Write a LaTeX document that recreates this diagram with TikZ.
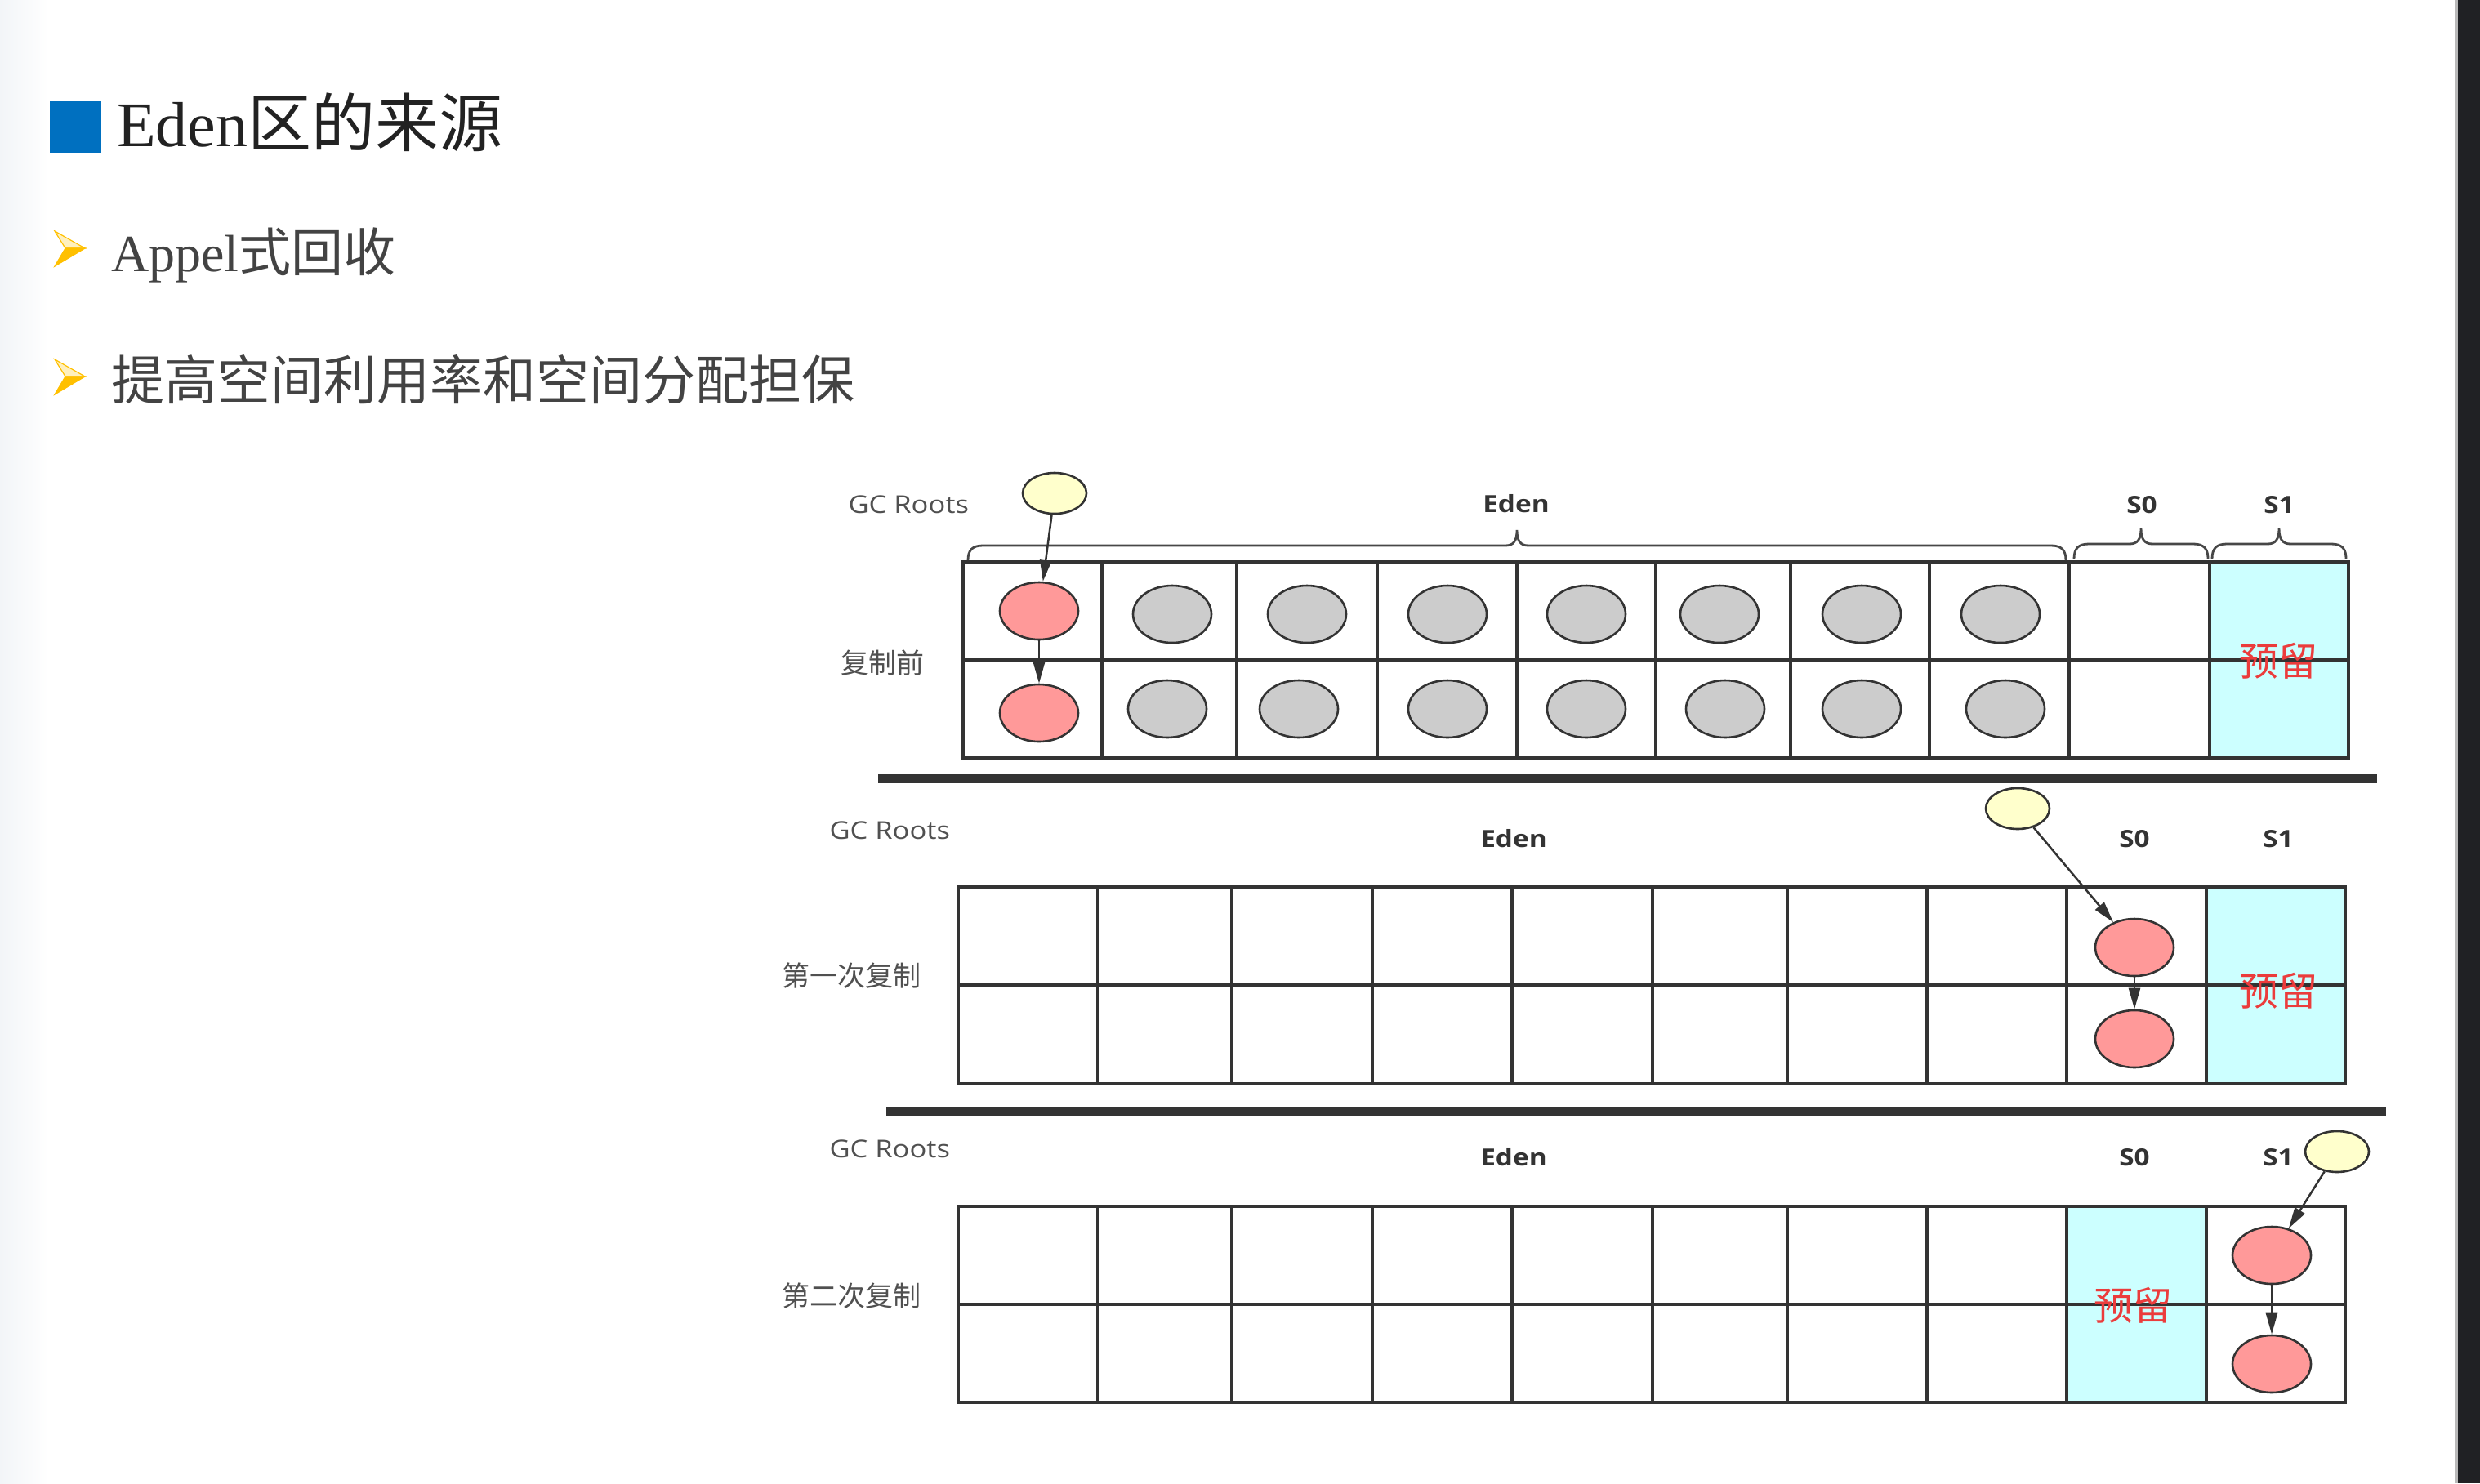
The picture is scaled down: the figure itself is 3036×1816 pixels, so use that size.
\documentclass[tikz,border=0pt]{standalone}
\usepackage{fontspec}
\setmainfont{Liberation Serif}
\newfontfamily\cjk{Noto Sans CJK SC}
\newfontfamily\lbl[FakeStretch=1.15]{Open Sans}
\usetikzlibrary{shapes.geometric,arrows.meta}
\definecolor{titleblue}{RGB}{0,112,192}
\definecolor{txtdark}{RGB}{34,34,34}
\definecolor{txtgray}{RGB}{80,80,80}
\definecolor{linecol}{RGB}{51,51,51}
\definecolor{redfill}{RGB}{255,153,153}
\definecolor{grayfill}{RGB}{204,204,204}
\definecolor{yelfill}{RGB}{255,255,204}
\definecolor{cyanfill}{RGB}{204,255,255}
\definecolor{resred}{RGB}{235,60,60}
\definecolor{bulletgold}{RGB}{255,192,0}
\definecolor{bulletlight}{RGB}{255,240,190}
\definecolor{barcol}{RGB}{32,33,36}
\newcommand{\ubrace}[3]{%
  \draw[bracestyle] (#1,#3) .. controls (#1,{#3-12}) and ({#1+5},{#3-18}) .. ({#1+18},{#3-18})
    -- ({(#1+#2)/2-14},{#3-18}) .. controls ({(#1+#2)/2-4},{#3-18}) and ({(#1+#2)/2},{#3-24}) .. ({(#1+#2)/2},{#3-37})
    .. controls ({(#1+#2)/2},{#3-24}) and ({(#1+#2)/2+4},{#3-18}) .. ({(#1+#2)/2+14},{#3-18})
    -- ({#2-18},{#3-18}) .. controls ({#2-5},{#3-18}) and (#2,{#3-12}) .. (#2,#3);}
\newcommand{\bulletarrow}[1]{%
  \filldraw[draw=bulletgold, line width=1.2pt, fill=bulletlight] (67,{#1}) -- (104,{#1+21}) -- (80,{#1+21}) -- cycle;
  \filldraw[draw=bulletgold, line width=1.2pt, fill=bulletgold] (80,{#1+21}) -- (104,{#1+21}) -- (67,{#1+43}) -- cycle;}
\begin{document}
\begin{tikzpicture}[x=1pt,y=-1pt,
  txt/.style={inner sep=0pt, outer sep=0pt},
  grid/.style={draw=linecol, line width=3.2pt},
  sep/.style={draw=linecol, line width=11pt},
  bracestyle/.style={draw=linecol!90, line width=2.8pt},
  obj/.style={ellipse, draw=linecol, line width=2.6pt, inner sep=0pt, minimum width=96pt, minimum height=70pt},
  redobj/.style={obj, fill=redfill},
  grayobj/.style={obj, fill=grayfill},
  rootobj/.style={obj, fill=yelfill, minimum width=78pt, minimum height=50pt},
  arr/.style={draw=linecol, line width=2.5pt, -{Triangle[length=26pt,width=14pt]}},
  gclabel/.style={txt, anchor=base east, text=txtgray, font=\lbl\fontsize{30}{34}\selectfont},
  arealabel/.style={txt, anchor=base, text=linecol, font=\lbl\bfseries\fontsize{29}{34}\selectfont},
  rowlabel/.style={txt, anchor=east, text=txtgray, font=\cjk\fontsize{34}{40}\selectfont},
  reslabel/.style={txt, text=resred, font=\cjk\fontsize{48}{56}\selectfont}
]
\useasboundingbox (0,0) rectangle (3036,1816);
\fill[white] (0,0) rectangle (3036,1816);
\shade[left color={rgb,255:red,242;green,245;blue,248}, right color=white] (0,0) rectangle (60,1816);
\fill[gray!55] (3005,0) rectangle (3009,1816);
\fill[barcol] (3009,0) rectangle (3036,1816);

% title
\fill[titleblue] (61,124) rectangle (124,187);
\node[txt, anchor=base west, text=txtdark, font=\fontsize{78}{90}\selectfont] (title) at (143,179) {Eden{\cjk 区的来源}};

% bullets
\bulletarrow{283}
\node[txt, anchor=base west, text=txtdark!85, font=\fontsize{64}{74}\selectfont] (item1) at (136,332) {Appel{\cjk 式回收}};
\bulletarrow{440}
\node[txt, anchor=base west, text=txtdark!85, font=\cjk\fontsize{65}{75}\selectfont] (item2) at (136,489) {提高空间利用率和空间分配担保};

% ================= row 1 =================
\fill[cyanfill] (2705,688) rectangle (2875,928);
\draw[grid] (1179,688) rectangle (2875,928);
\draw[grid] (1179,808) -- (2875,808);
\foreach \x in {1349,1514,1686,1857,2027,2192,2362,2533,2705} \draw[grid] (\x,688) -- (\x,928);
\ubrace{1185}{2529}{686}
\ubrace{2539}{2703}{684}
\ubrace{2708}{2872}{684}
\node[gclabel] (gc1) at (1186,628) {GC Roots};
\node[arealabel] (eden1) at (1856,627) {Eden};
\node[arealabel] (sa1) at (2622,628) {S0};
\node[arealabel] (sb1) at (2790,628) {S1};
\node[rowlabel] (row1) at (1131,811) {复制前};
\node[reslabel] (res1) at (2789,809) {预留};

\node[rootobj] (root1) at (1291,604) {};
\node[redobj] (r1a) at (1272,748) {};
\node[redobj] (r1b) at (1272,873) {};
\node[grayobj] (g1a) at (1435,752) {};
\node[grayobj] (g2a) at (1600,752) {};
\node[grayobj] (g3a) at (1772,752) {};
\node[grayobj] (g4a) at (1942,752) {};
\node[grayobj] (g5a) at (2105,752) {};
\node[grayobj] (g6a) at (2279,752) {};
\node[grayobj] (g7a) at (2449,752) {};
\node[grayobj] (g1b) at (1429,868) {};
\node[grayobj] (g2b) at (1590,868) {};
\node[grayobj] (g3b) at (1772,868) {};
\node[grayobj] (g4b) at (1942,868) {};
\node[grayobj] (g5b) at (2112,868) {};
\node[grayobj] (g6b) at (2279,868) {};
\node[grayobj] (g7b) at (2455,868) {};
\draw[arr] (root1) -- (r1a);
\draw[arr] (r1a) -- (r1b);

\draw[sep] (1075,953) -- (2910,953);

% ================= row 2 =================
\fill[cyanfill] (2701,1086) rectangle (2871,1327);
\draw[grid] (1173,1086) rectangle (2871,1327);
\draw[grid] (1173,1206) -- (2871,1206);
\foreach \x in {1344,1508,1680,1851,2023,2188,2359,2530,2701} \draw[grid] (\x,1086) -- (\x,1327);
\node[gclabel] (gc2) at (1163,1027) {GC Roots};
\node[arealabel] (eden2) at (1853,1037) {Eden};
\node[arealabel] (sa2) at (2613,1037) {S0};
\node[arealabel] (sb2) at (2789,1037) {S1};
\node[rowlabel] (row2) at (1127,1195) {第一次复制};
\node[reslabel] (res2) at (2789,1213) {预留};
\node[rootobj] (root2) at (2470,990) {};
\node[redobj] (r2a) at (2613,1160) {};
\node[redobj] (r2b) at (2613,1272) {};
\draw[arr] (root2) -- (r2a);
\draw[arr] (r2a) -- (r2b);

\draw[sep] (1085,1360) -- (2921,1360);

% ================= row 3 =================
\fill[cyanfill] (2530,1477) rectangle (2701,1717);
\draw[grid] (1173,1477) rectangle (2871,1717);
\draw[grid] (1173,1597) -- (2871,1597);
\foreach \x in {1344,1508,1680,1851,2023,2188,2359,2530,2701} \draw[grid] (\x,1477) -- (\x,1717);
\node[gclabel] (gc3) at (1163,1417) {GC Roots};
\node[arealabel] (eden3) at (1853,1427) {Eden};
\node[arealabel] (sa3) at (2613,1427) {S0};
\node[arealabel] (sb3) at (2789,1427) {S1};
\node[rowlabel] (row3) at (1127,1587) {第二次复制};
\node[reslabel] (res3) at (2611,1598) {预留};
\node[rootobj] (root3) at (2861,1410) {};
\node[redobj] (r3a) at (2781,1537) {};
\node[redobj] (r3b) at (2781,1670) {};
\draw[arr] (root3) -- (r3a);
\draw[arr] (r3a) -- (r3b);
\end{tikzpicture}
\end{document}
